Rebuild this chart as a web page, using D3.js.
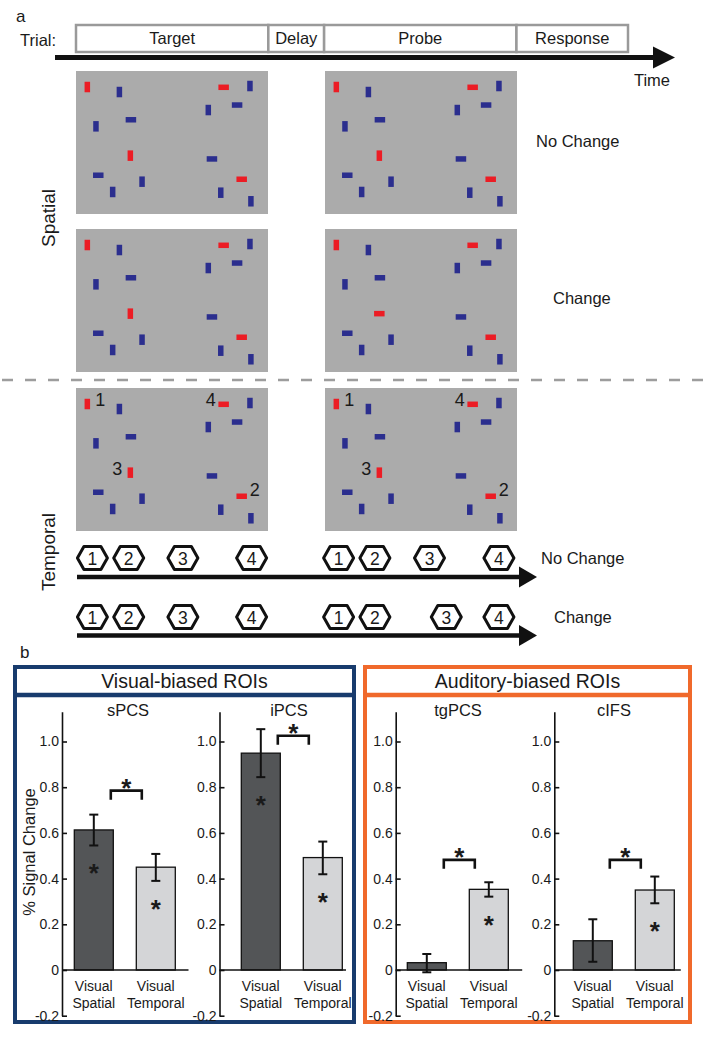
<!DOCTYPE html>
<html><head><meta charset="utf-8">
<script src="https://cdn.jsdelivr.net/npm/d3@7"></script>
<style>
body{margin:0;background:#fff}
svg{display:block}
text{font-family:"Liberation Sans",Arial,Helvetica,sans-serif;fill:#1a1a1a}
</style>
</head><body>
<svg id="c" width="704" height="1038"></svg>
<script>
// ---------- DATA ----------
const trialPhases = ["Target", "Delay", "Probe", "Response"];
const phaseDurations = [1.0, 0.29, 1.0, 0.58];

// stimulus array (fractions of the display)
const stimX = [0.059,0.226,0.769,0.906,0.689,0.839,0.104,0.286,0.283,0.708,0.116,0.344,0.863,0.191,0.754,0.911];
const stimY = [0.112,0.147,0.114,0.105,0.273,0.238,0.387,0.341,0.592,0.615,0.729,0.774,0.757,0.846,0.851,0.911];
const stimOrient = ["V","V","H","V","V","H","V","H","V","H","H","V","H","V","V","V"];
const stimIsTarget = [1,0,1,0,0,0,0,0,1,0,0,0,1,0,0,0];
const changedItem = 8;
const temporalOrder = {0:"1", 12:"2", 8:"3", 2:"4"};

// temporal sequence onsets (arbitrary time units, 0-100 along the arrow)
const seqLabels = ["1","2","3","4"];
const targetOnsets = [3.35, 11.24, 23.02, 37.96];
const probeNoChange = [56.87, 64.76, 76.63, 91.72];
const probeChange = [56.87, 64.76, 80.28, 91.72];

// bar chart data
const rois = ["sPCS", "iPCS", "tgPCS", "cIFS"];
const conditions = ["Visual Spatial", "Visual Temporal"];
const spatialMean  = [0.613, 0.949, 0.032, 0.128];
const spatialLo    = [0.545, 0.844, -0.010, 0.036];
const spatialHi    = [0.680, 1.054, 0.070, 0.222];
const temporalMean = [0.450, 0.492, 0.353, 0.350];
const temporalLo   = [0.390, 0.419, 0.321, 0.292];
const temporalHi   = [0.508, 0.562, 0.384, 0.409];
const bracketLevel = [0.785, 1.025, 0.482, 0.482];
const tickValues = [-0.2, 0, 0.2, 0.4, 0.6, 0.8, 1.0];
const tickLabels = ["-0.2", "0", "0.2", "0.4", "0.6", "0.8", "1.0"];
const groupTitles = ["Visual-biased ROIs", "Auditory-biased ROIs"];

// ---------- STYLE / LAYOUT ----------
const RED = "#ec1c24", BLUE = "#2b2e8e", PANEL = "#ababab";
const DARK = "#535557", LIGHT = "#d4d5d7";
const NAVY = "#183b6d", ORANGE = "#f0692b";
const svg = d3.select("#c");

// panel label a
svg.append("text").attr("x", 16).attr("y", 22).attr("font-size", 17).text("a");
svg.append("text").attr("x", 20).attr("y", 46).attr("font-size", 16.5).text("Trial:");

// trial phases
const tScale = d3.scaleLinear().domain([0, d3.sum(phaseDurations)]).range([76, 628]);
const cum = [0]; phaseDurations.forEach((d,i)=>cum.push(cum[i]+d));
const ph = svg.append("g");
trialPhases.forEach((p,i)=>{
  ph.append("rect").attr("x", tScale(cum[i])).attr("y", 25).attr("width", tScale(cum[i+1])-tScale(cum[i])).attr("height", 27)
    .attr("fill","#fff").attr("stroke","#9a9a9a").attr("stroke-width",2.5);
  ph.append("text").attr("x",(tScale(cum[i])+tScale(cum[i+1]))/2).attr("y",44).attr("text-anchor","middle")
    .attr("font-size",16.5).text(p);
});

function arrow(g, x0, x1, y, th, headL, headH){
  g.append("line").attr("x1",x0).attr("x2",x1-headL+2).attr("y1",y).attr("y2",y).attr("stroke","#111").attr("stroke-width",th);
  g.append("path").attr("d",`M${x1-headL},${y-headH/2} L${x1},${y} L${x1-headL},${y+headH/2} Z`).attr("fill","#111");
}
arrow(svg, 55, 675, 57.5, 5, 22, 22);
svg.append("text").attr("x", 670).attr("y", 86).attr("text-anchor","end").attr("font-size",16.5).text("Time");

// stimulus panels
const PW = 192, PH = 143;
function panel(px, py, opts){
  const g = svg.append("g");
  const sx = d3.scaleLinear().domain([0,1]).range([px, px+PW]);
  const sy = d3.scaleLinear().domain([0,1]).range([py, py+PH]);
  g.append("rect").attr("x",px).attr("y",py).attr("width",PW).attr("height",PH).attr("fill",PANEL);
  stimX.forEach((x,i)=>{
    let o = stimOrient[i];
    if (opts.change && i===changedItem) o = (o==="V") ? "H" : "V";
    const w = o==="V" ? 5.5 : 10.5, h = o==="V" ? 10.5 : 5.5;
    g.append("rect").attr("x", sx(x)-w/2).attr("y", sy(stimY[i])-h/2).attr("width",w).attr("height",h)
      .attr("fill", stimIsTarget[i] ? RED : BLUE);
    if (opts.numbers && temporalOrder[i]){
      const right = (temporalOrder[i]==="1" || temporalOrder[i]==="2");
      g.append("text").attr("x", sx(x) + (right ? 8 : -8)).attr("y", sy(stimY[i]) + (temporalOrder[i]==="2" ? 0 : 2))
        .attr("text-anchor", right ? "start" : "end").attr("font-size",18).text(temporalOrder[i]);
    }
  });
}
panel(76, 71, {});
panel(325, 71, {});
panel(76, 229, {});
panel(325, 229, {change:true});
panel(76, 388, {numbers:true});
panel(325, 388, {numbers:true});

svg.append("text").attr("x", 536).attr("y", 147).attr("font-size",16.5).text("No Change");
svg.append("text").attr("x", 553).attr("y", 304).attr("font-size",16.5).text("Change");

// row labels
svg.append("text").attr("transform","translate(55,218) rotate(-90)").attr("text-anchor","middle").attr("font-size",19).text("Spatial");
svg.append("text").attr("transform","translate(55,552) rotate(-90)").attr("text-anchor","middle").attr("font-size",19).text("Temporal");

// dashed separator
svg.append("line").attr("x1",2).attr("x2",704).attr("y1",380).attr("y2",380)
  .attr("stroke","#9d9d9d").attr("stroke-width",2.5).attr("stroke-dasharray","11,12");

// temporal sequences
const seqX = d3.scaleLinear().domain([0,100]).range([77, 537]);
function hexRow(onsets, yc, ya, label, labelX){
  const g = svg.append("g");
  arrow(g, seqX(0), seqX(100), ya, 4.5, 18, 21);
  onsets.forEach((t,i)=>{
    const cx = seqX(t), hw = 15, hh = 11.5, q = 8.5;
    g.append("path").attr("d",`M${cx-hw},${yc} L${cx-q},${yc-hh} L${cx+q},${yc-hh} L${cx+hw},${yc} L${cx+q},${yc+hh} L${cx-q},${yc+hh} Z`)
      .attr("fill","#fff").attr("stroke","#111").attr("stroke-width",3).attr("stroke-linejoin","round");
    g.append("text").attr("x",cx).attr("y",yc+6.5).attr("text-anchor","middle").attr("font-size",17.5).text(seqLabels[i % seqLabels.length]);
  });
  g.append("text").attr("x", labelX).attr("y", yc+6).attr("font-size",16.5).text(label);
}
hexRow(targetOnsets.concat(probeNoChange), 558, 577, "No Change", 541);
hexRow(targetOnsets.concat(probeChange), 617, 635.5, "Change", 554);

// ---------- panel b ----------
svg.append("text").attr("x", 20).attr("y", 658).attr("font-size",17).text("b");

const groups = [{x:15, w:339, color:NAVY}, {x:365, w:325, color:ORANGE}];
groups.forEach((gr,i)=>{
  svg.append("rect").attr("x",gr.x).attr("y",667).attr("width",gr.w).attr("height",355)
    .attr("fill","#fff").attr("stroke",gr.color).attr("stroke-width",4);
  svg.append("line").attr("x1",gr.x).attr("x2",gr.x+gr.w).attr("y1",695).attr("y2",695)
    .attr("stroke",gr.color).attr("stroke-width",4.5);
  svg.append("text").attr("x",gr.x+gr.w/2).attr("y",688).attr("text-anchor","middle").attr("font-size",19.5).text(groupTitles[i]);
});

const y = d3.scaleLinear().domain([0, 1]).range([970, 741.5]);
const yTop = 1.13, yBot = -0.2;
const axisX = [62, 219.5, 395.7, 554.3];
const bandStart = [74.3, 241.3, 407.3, 573.3];
const titleX = [128, 289, 458, 614];

rois.forEach((roi, k)=>{
  const g = svg.append("g");
  const x = d3.scaleBand().domain(conditions).range([bandStart[k], bandStart[k]+101]).paddingInner(23/62).paddingOuter(0);
  const ax = d3.axisLeft(d3.scaleLinear().domain([yBot, yTop]).range([y(yBot), y(yTop)]))
    .tickValues(tickValues).tickFormat((d,i)=>tickLabels[i]).tickSizeInner(-5).tickSizeOuter(0).tickPadding(3);
  const ag = g.append("g").attr("transform",`translate(${axisX[k]},0)`).call(ax);
  ag.select(".domain").attr("stroke","#111").attr("stroke-width",1.6);
  ag.selectAll(".tick line").attr("stroke","#111").attr("stroke-width",1.6);
  ag.selectAll(".tick text").attr("font-size",14).attr("fill","#1a1a1a").attr("font-family","Liberation Sans, Arial, sans-serif");

  g.append("text").attr("x",titleX[k]).attr("y",716).attr("text-anchor","middle").attr("font-size",16.5).text(roi);

  const means = [spatialMean[k], temporalMean[k]];
  const los = [spatialLo[k], temporalLo[k]];
  const his = [spatialHi[k], temporalHi[k]];
  conditions.forEach((c,j)=>{
    const bx = x(c), bw = x.bandwidth();
    g.append("rect").attr("x",bx).attr("width",bw)
      .attr("y", Math.min(y(means[j]), y(0))).attr("height", Math.abs(y(0)-y(means[j])))
      .attr("fill", j===0 ? DARK : LIGHT).attr("stroke","#111").attr("stroke-width",1.3);
    const cx = bx + bw/2;
    g.append("line").attr("x1",cx).attr("x2",cx).attr("y1",y(los[j])).attr("y2",y(his[j])).attr("stroke","#111").attr("stroke-width",2);
    [los[j], his[j]].forEach(v=>g.append("line").attr("x1",cx-4.5).attr("x2",cx+4.5).attr("y1",y(v)).attr("y2",y(v)).attr("stroke","#111").attr("stroke-width",2));
    if (los[j] > 0.05){
      g.append("text").attr("x",cx).attr("y",y(los[j]-0.1)+14).attr("text-anchor","middle").attr("font-size",26).attr("font-weight","bold").text("*");
    }
    const words = c.split(" ");
    g.append("text").attr("x",cx).attr("y",991).attr("text-anchor","middle").attr("font-size",14).text(words[0]);
    g.append("text").attr("x",cx).attr("y",1008).attr("text-anchor","middle").attr("font-size",14).text(words[1]);
  });
  g.append("line").attr("x1",axisX[k]).attr("x2",axisX[k]+126.5).attr("y1",y(0)).attr("y2",y(0)).attr("stroke","#111").attr("stroke-width",1.6);
  const x1 = x(conditions[0]) + x.bandwidth() - 2.5, x2 = x(conditions[1]) + 5.5, yb = y(bracketLevel[k]);
  g.append("path").attr("d",`M${x1},${yb+9} V${yb} H${x2} V${yb+9}`).attr("fill","none").attr("stroke","#111").attr("stroke-width",2.6);
  g.append("text").attr("x",(x1+x2)/2).attr("y",yb+6).attr("text-anchor","middle").attr("font-size",26).attr("font-weight","bold").text("*");
});

svg.append("text").attr("transform","translate(35,852) rotate(-90)").attr("text-anchor","middle").attr("font-size",16.5).text("% Signal Change");
</script>
</body></html>
